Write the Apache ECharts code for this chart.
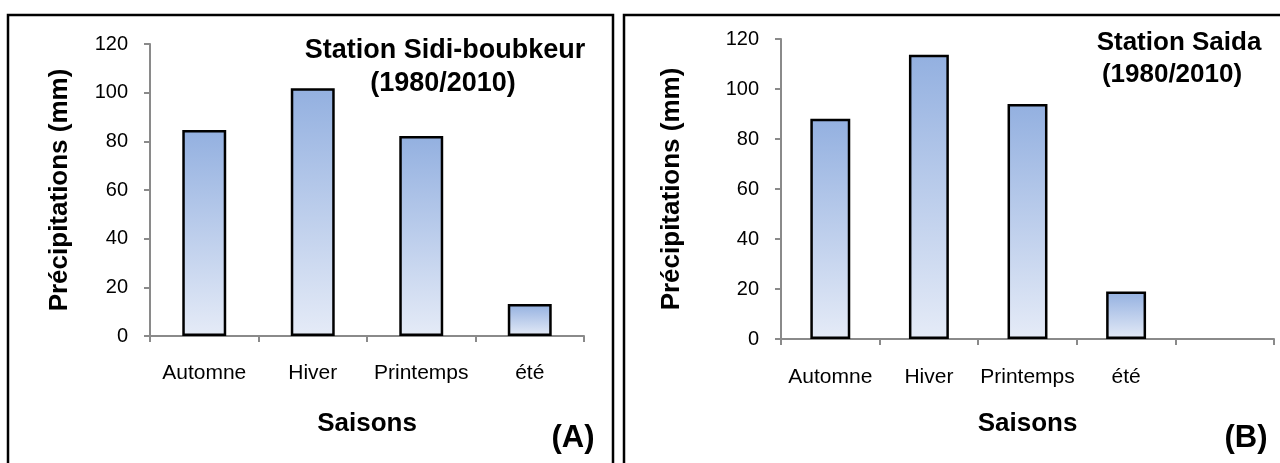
<!DOCTYPE html>
<html>
<head>
<meta charset="utf-8">
<script src="https://cdn.jsdelivr.net/npm/echarts@6/dist/echarts.min.js"></script>
<style>
  html, body { margin: 0; padding: 0; background: #fff; }
  #chart { width: 1280px; height: 463px; }
</style>
</head>
<body>
<div id="chart"></div>
<script>
// saisons (axe x)
const seasons = ['Automne', 'Hiver', 'Printemps', 'été']
// la station Saida a une catégorie vide en plus
const seasonsSaida = ['Automne', 'Hiver', 'Printemps', 'été', '']
// précipitations moyennes (mm), 1980/2010
const sidiBoubkeur = [84.7, 101.8, 82.2, 13.2]
const saida = [88.1, 113.7, 94.0, 19.0]
// axe y
const yMin = 0
const yMax = 120
const yStep = 20

const FONT = "'Liberation Sans', Arial, sans-serif"
const axisGray = '#8a8a8a'

function barFill () {
  return new echarts.graphic.LinearGradient(0, 0, 0, 1, [
    { offset: 0, color: '#93b0e0' },
    { offset: 1, color: '#e5ebf7' }
  ])
}

function xAxisFor (gridIndex, data, nameGap, labelMargin) {
  return {
    type: 'category',
    gridIndex: gridIndex,
    data: data,
    name: 'Saisons',
    nameLocation: 'middle',
    nameGap: nameGap,
    nameTextStyle: { fontFamily: FONT, fontSize: 26, fontWeight: 'bold', color: '#000' },
    axisLine: { lineStyle: { color: axisGray, width: 2 } },
    axisTick: { show: true, length: 6, lineStyle: { color: axisGray, width: 2 } },
    axisLabel: { fontFamily: FONT, fontSize: 21, color: '#000', margin: labelMargin, interval: 0 },
    splitLine: { show: false }
  }
}

function yAxisFor (gridIndex) {
  return {
    type: 'value',
    gridIndex: gridIndex,
    min: yMin,
    max: yMax,
    interval: yStep,
    axisLine: { show: true, lineStyle: { color: axisGray, width: 2 } },
    axisTick: { show: true, length: 6, lineStyle: { color: axisGray, width: 2 } },
    axisLabel: { fontFamily: FONT, fontSize: 20, color: '#000', margin: 22 },
    splitLine: { show: false }
  }
}

function barSeries (index, values) {
  return {
    type: 'bar',
    xAxisIndex: index,
    yAxisIndex: index,
    data: values,
    barWidth: '40.5%',
    itemStyle: { color: barFill(), borderColor: '#000', borderWidth: 2.5 },
    emphasis: { disabled: true }
  }
}

function text (x, y, str, size, extra) {
  return Object.assign({
    type: 'text',
    x: x,
    y: y,
    silent: true,
    style: {
      text: str,
      font: 'bold ' + size + 'px ' + FONT,
      fill: '#000',
      textAlign: 'center',
      textVerticalAlign: 'middle'
    }
  }, extra || {})
}

const chart = echarts.init(document.getElementById('chart'), null, { renderer: 'canvas' })

chart.setOption({
  animation: false,
  backgroundColor: '#fff',
  grid: [
    { left: 150, top: 44, width: 434, height: 292, outerBoundsMode: 'none' },
    { left: 781, top: 39, width: 493, height: 300, outerBoundsMode: 'none' }
  ],
  xAxis: [
    xAxisFor(0, seasons, 75, 27),
    xAxisFor(1, seasonsSaida, 72, 28)
  ],
  yAxis: [yAxisFor(0), yAxisFor(1)],
  series: [barSeries(0, sidiBoubkeur), barSeries(1, saida)],
  graphic: [
    // cadres des deux panneaux
    { type: 'rect', silent: true, shape: { x: 8, y: 15, width: 605, height: 470 },
      style: { fill: 'none', stroke: '#000', lineWidth: 2.5 } },
    { type: 'rect', silent: true, shape: { x: 624, y: 15, width: 700, height: 470 },
      style: { fill: 'none', stroke: '#000', lineWidth: 2.5 } },
    // titres des axes y
    text(60, 190, 'Précipitations (mm)', 26, { rotation: Math.PI / 2 }),
    text(672, 189, 'Précipitations (mm)', 26, { rotation: Math.PI / 2 }),
    // titres des stations
    text(445, 51, 'Station Sidi-boubkeur', 27),
    text(443, 84, '(1980/2010)', 27),
    text(1179, 43, 'Station Saida', 26),
    text(1172, 75, '(1980/2010)', 26),
    // repères des panneaux
    text(573, 438, '(A)', 31),
    text(1246, 438, '(B)', 31)
  ]
})
</script>
</body>
</html>
